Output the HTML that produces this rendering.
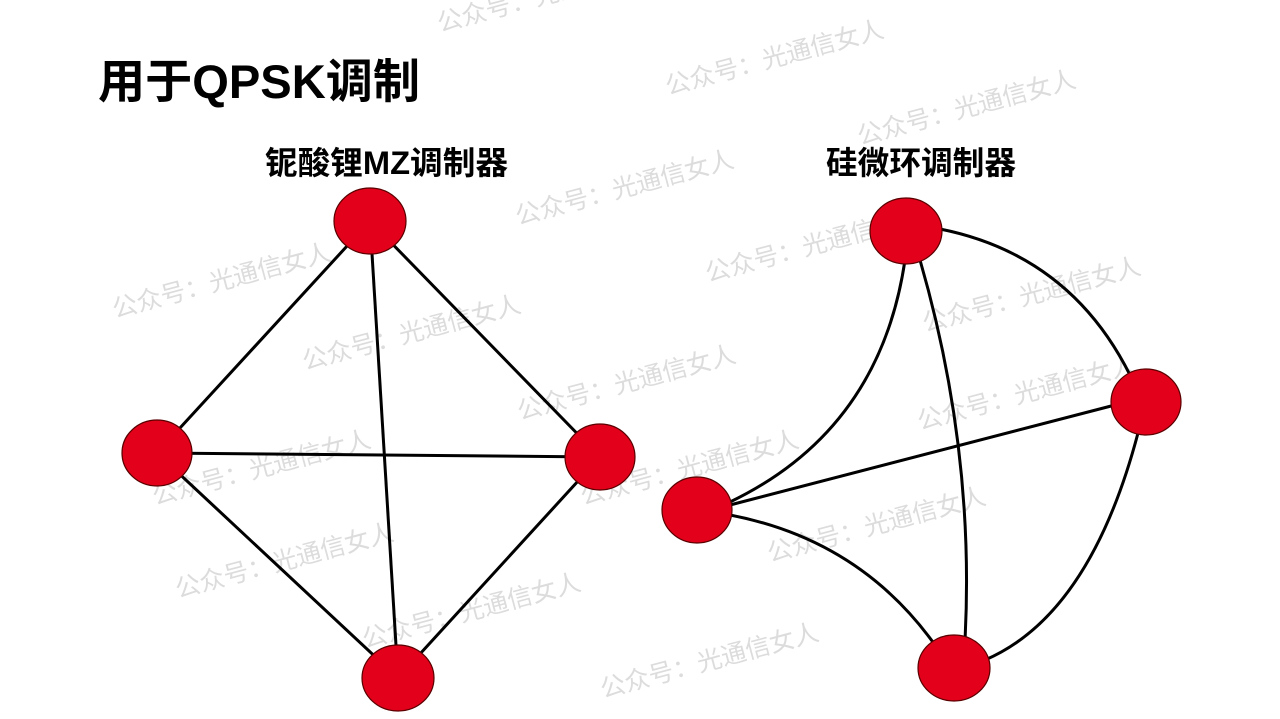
<!DOCTYPE html>
<html><head><meta charset="utf-8"><style>
html,body{margin:0;padding:0;background:#fff;width:1280px;height:719px;overflow:hidden}
svg{display:block}
</style></head><body>
<svg width="1280" height="719" viewBox="0 0 1280 719" xmlns="http://www.w3.org/2000/svg">
<g font-family="'Liberation Sans','Noto Sans CJK SC',sans-serif" font-size="25" fill="#dcdcdc">
<text transform="translate(440,32) rotate(-15)">公众号：光通信女人</text>
<text transform="translate(668,95) rotate(-15)">公众号：光通信女人</text>
<text transform="translate(860,145) rotate(-15)">公众号：光通信女人</text>
<text transform="translate(518,225) rotate(-15)">公众号：光通信女人</text>
<text transform="translate(708,282) rotate(-15)">公众号：光通信女人</text>
<text transform="translate(115,318) rotate(-15)">公众号：光通信女人</text>
<text transform="translate(925,332) rotate(-15)">公众号：光通信女人</text>
<text transform="translate(305,370) rotate(-15)">公众号：光通信女人</text>
<text transform="translate(520,420) rotate(-15)">公众号：光通信女人</text>
<text transform="translate(920,430) rotate(-15)">公众号：光通信女人</text>
<text transform="translate(155,505) rotate(-15)">公众号：光通信女人</text>
<text transform="translate(583,505) rotate(-15)">公众号：光通信女人</text>
<text transform="translate(770,562) rotate(-15)">公众号：光通信女人</text>
<text transform="translate(178,598) rotate(-15)">公众号：光通信女人</text>
<text transform="translate(365,648) rotate(-15)">公众号：光通信女人</text>
<text transform="translate(603,698) rotate(-15)">公众号：光通信女人</text>
</g>
<text x="98" y="98" font-family="'Liberation Sans','Noto Sans CJK SC',sans-serif" font-weight="bold" font-size="47" textLength="322" lengthAdjust="spacingAndGlyphs" fill="#000">用于QPSK调制</text>
<text x="265" y="174" font-family="'Liberation Sans','Noto Sans CJK SC',sans-serif" font-weight="bold" font-size="32" textLength="243" lengthAdjust="spacingAndGlyphs" fill="#000">铌酸锂MZ调制器</text>
<text x="826" y="174" font-family="'Liberation Sans','Noto Sans CJK SC',sans-serif" font-weight="bold" font-size="32" textLength="190" lengthAdjust="spacingAndGlyphs" fill="#000">硅微环调制器</text>
<g stroke="#000" stroke-width="3" fill="none">
<line x1="370" y1="221" x2="157" y2="453"/>
<line x1="370" y1="221" x2="600" y2="457"/>
<line x1="370" y1="221" x2="398" y2="678"/>
<line x1="157" y1="453" x2="600" y2="457"/>
<line x1="157" y1="453" x2="398" y2="678"/>
<line x1="600" y1="457" x2="398" y2="678"/>
<path d="M905,260 Q880,430 730,502"/>
<path d="M940,229 Q1070,255 1130,375"/>
<path d="M920,260 Q975,450 965,640"/>
<path d="M730,515 Q860,540 935,645"/>
<path d="M1138,433 Q1090,615 985,660"/>
<line x1="730" y1="505" x2="1115" y2="405"/>
</g>
<g fill="#e2001a" stroke="#5a0000" stroke-width="1.2">
<ellipse cx="370" cy="221" rx="36" ry="33"/>
<ellipse cx="157" cy="453" rx="35" ry="33"/>
<ellipse cx="600" cy="457" rx="35" ry="33"/>
<ellipse cx="398" cy="678" rx="36" ry="33"/>
<ellipse cx="906" cy="231" rx="36" ry="33"/>
<ellipse cx="1146" cy="402" rx="35" ry="33"/>
<ellipse cx="697" cy="510" rx="35" ry="33"/>
<ellipse cx="954" cy="668" rx="36" ry="33"/>
</g>
</svg>
</body></html>
